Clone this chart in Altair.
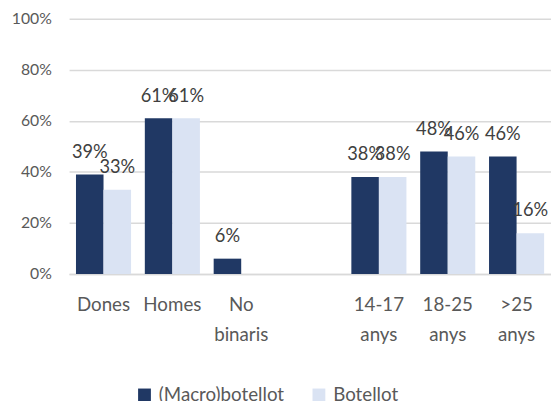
import altair as alt
import pandas as pd

categories = ["Dones", "Homes", "No|binaris", " ", "14-17|anys", "18-25|anys", ">25|anys"]
series = ["(Macro)botellot", "Botellot"]
macro = [0.39, 0.61, 0.06, None, 0.38, 0.48, 0.46]
botellot = [0.33, 0.61, None, None, 0.38, 0.46, 0.16]
colors = ["#203864", "#DAE3F3"]
y_ticks = [0, 0.2, 0.4, 0.6, 0.8, 1.0]

rows = []
for c, m, b in zip(categories, macro, botellot):
    rows.append({"cat": c, "series": series[0], "value": m})
    rows.append({"cat": c, "series": series[1], "value": b})
df = pd.DataFrame(rows)

FONT = "Lato"

x_enc = alt.X(
    "cat:N",
    sort=categories,
    scale=alt.Scale(domain=categories, paddingInner=0.2, paddingOuter=0.1),
    axis=alt.Axis(
        title=None, labelAngle=0, labelExpr="split(datum.label, '|')",
        labelFont=FONT, labelFontSize=19, labelColor="#595959", labelLineHeight=31,
        ticks=False, domainColor="#D9D9D9", domainWidth=1.5, labelPadding=22, grid=False,
    ),
)
y_enc = alt.Y(
    "value:Q",
    scale=alt.Scale(domain=[0, 1]),
    axis=alt.Axis(
        values=y_ticks, format=".0%", title=None, domain=False, ticks=False,
        gridColor="#D9D9D9", gridWidth=1.5, labelFont=FONT, labelFontSize=16,
        labelColor="#595959", labelPadding=18,
    ),
)
xoff = alt.XOffset("series:N", sort=series, scale=alt.Scale(domain=series, paddingInner=0, paddingOuter=0))

base = alt.Chart(df).transform_filter("isValid(datum.value)")

bars = base.mark_bar().encode(
    x=x_enc, y=y_enc, xOffset=xoff,
    color=alt.Color(
        "series:N", sort=series,
        scale=alt.Scale(domain=series, range=colors),
        legend=alt.Legend(
            orient="none", legendX=67, legendY=372, direction="horizontal", title=None,
            symbolType="square", symbolSize=169, symbolStrokeWidth=0,
            labelFont=FONT, labelFontSize=19, labelColor="#595959",
            columnPadding=25, labelOffset=5,
        ),
    ),
)

labels = base.mark_text(baseline="alphabetic", dy=-17, font=FONT, fontSize=18.5, color="#404040").encode(
    x=x_enc, y=y_enc, xOffset=xoff,
    text=alt.Text("value:Q", format=".0%"),
)

chart = (bars + labels).properties(
    width=489, height=259,
    autosize=alt.AutoSizeParams(type="none"),
    padding={"left": 62, "top": 8, "right": 0, "bottom": 126},
    background="white",
).configure_view(stroke=None)

chart.save("out.html", embed_options={"renderer": "svg", "actions": False})
